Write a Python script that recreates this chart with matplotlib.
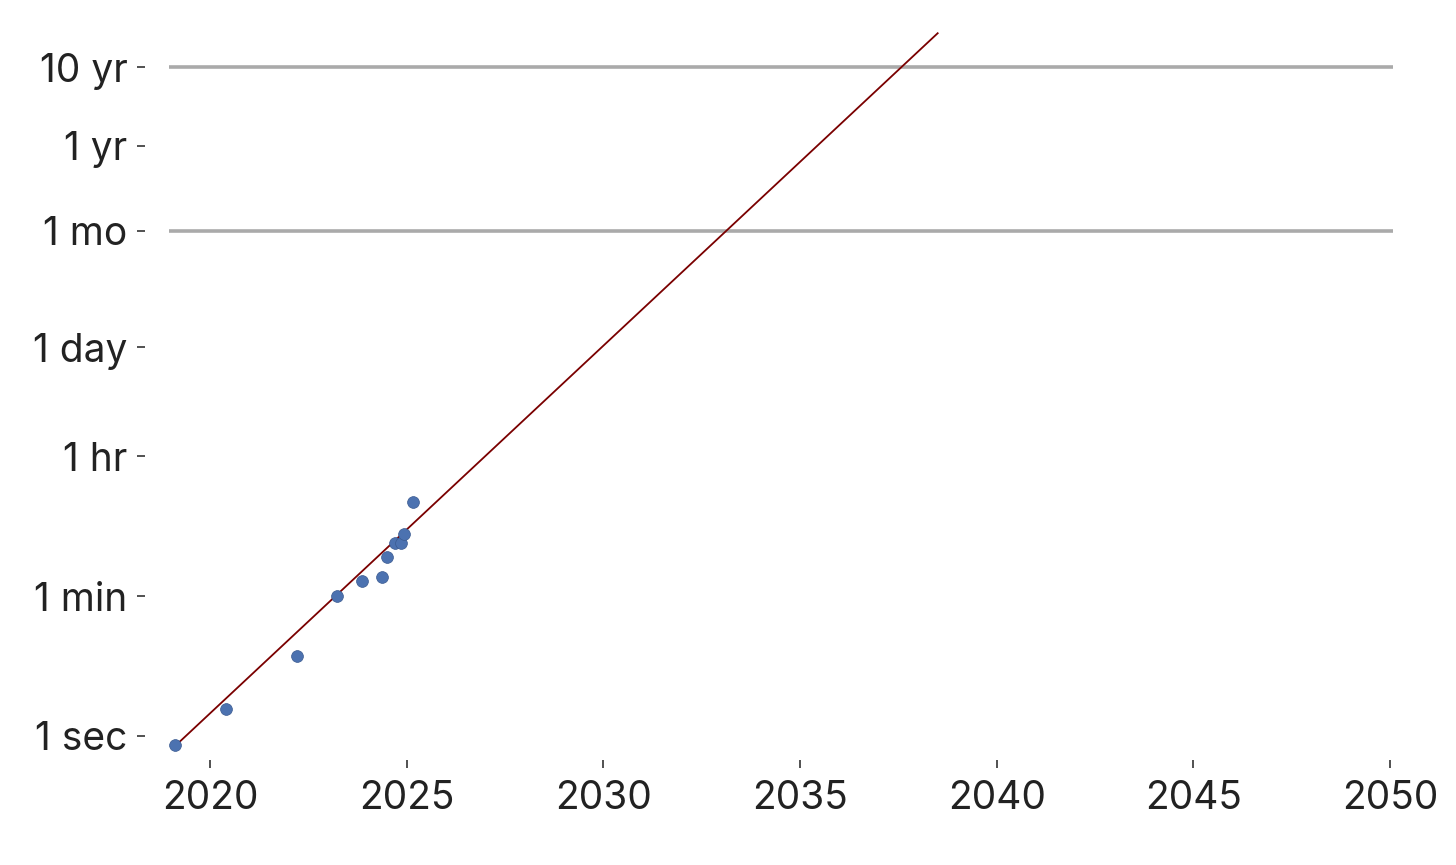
import matplotlib
matplotlib.use("Agg")
import matplotlib.pyplot as plt
import numpy as np

# release date (decimal year) and task length in seconds
model_years = [2019.11, 2020.41, 2022.21, 2023.22, 2023.86, 2024.38, 2024.49,
               2024.70, 2024.85, 2024.94, 2025.17]
task_seconds = [0.77, 2.2, 10.5, 60, 92, 105, 187, 287, 287, 366, 930]

# exponential trend drawn on the log axis
trend_years = [2019.2, 2038.5]
trend_seconds = [0.82, 8.5e8]

MIN = 60
HR = 3600
DAY = 86400
MO = 30.44 * DAY
YR = 365.25 * DAY
tick_values = [1, MIN, HR, DAY, MO, YR, 10 * YR]
tick_labels = ["1 sec", "1 min", "1 hr", "1 day", "1 mo", "1 yr", "10 yr"]
ref_lines = [MO, 10 * YR]
year_ticks = [2020, 2025, 2030, 2035, 2040, 2045, 2050]

plt.rcParams["font.family"] = ["Inter", "DejaVu Sans"]

W, H = 1456, 865
fig = plt.figure(figsize=(W / 100, H / 100), dpi=100)
ax = fig.add_axes([145 / W, 1 - 760 / H, 1255 / W, 735 / H])

ax.hlines(ref_lines, 2018.96, 2050.08, color="#aaaaaa", linewidth=2.6, zorder=1)
ax.plot(trend_years, trend_seconds, color="#7a0000", linewidth=1.3, zorder=2)
ax.scatter(model_years, task_seconds, s=72, color="#4c72b0",
           edgecolor="#3a5a90", linewidth=0.5, zorder=3)

ax.set_yscale("log")
ax.set_xlim(2018.347, 2050.254)
ax.set_ylim(10 ** -0.305, 10 ** 9.034)
ax.set_yticks(tick_values)
ax.set_yticklabels(tick_labels)
ax.yaxis.set_minor_locator(matplotlib.ticker.NullLocator())
ax.set_xticks(year_ticks)
ax.set_xticklabels([str(y) for y in year_ticks])

ax.tick_params(axis="both", labelsize=28, labelcolor="#222222", color="#222222",
               length=5.5, width=1.1, pad=7)
ax.tick_params(axis="x", pad=9)
for spine in ax.spines.values():
    spine.set_visible(False)

fig.savefig("out.png", dpi=100, facecolor="white")
